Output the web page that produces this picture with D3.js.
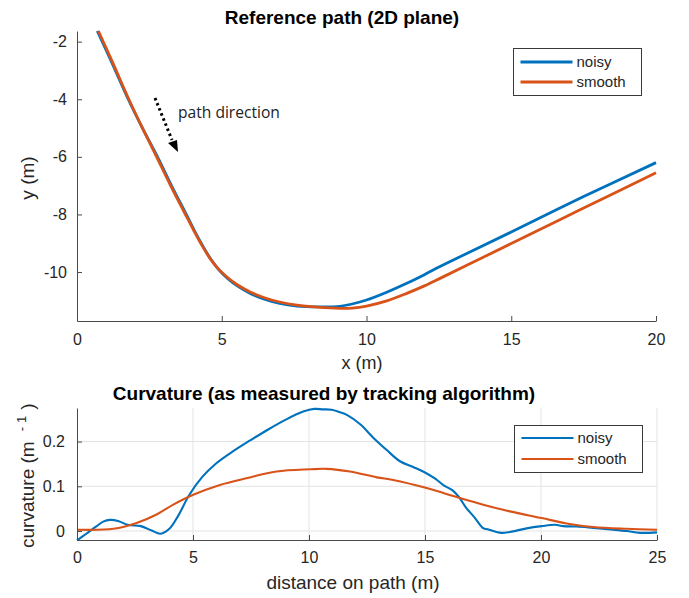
<!DOCTYPE html>
<html>
<head>
<meta charset="utf-8">
<script src="https://cdn.jsdelivr.net/npm/d3@7"></script>
<style>
  html, body { margin: 0; padding: 0; background: #fff; }
  svg { display: block; font-family: "Liberation Sans", Arial, Helvetica, sans-serif; }
</style>
</head>
<body>
<svg id="chart" width="689" height="598"></svg>
<script>
// ---------- DATA ----------
// Top: reference path (x, y) in metres
const pathNoisyX = [0.70, 1.20, 1.77, 2.27, 2.78, 3.25, 3.75, 4.05, 4.35, 4.62, 4.90, 5.20, 5.55, 6.00, 6.50, 7.00, 7.60, 8.30, 9.08, 9.50, 10.00, 10.70, 11.39, 12.00, 12.54, 13.50, 15.00, 17.50, 20.00];
const pathNoisyY = [-1.63, -2.72, -4.00, -5.02, -6.00, -6.97, -7.95, -8.55, -9.10, -9.55, -9.92, -10.22, -10.49, -10.75, -10.95, -11.09, -11.18, -11.21, -11.19, -11.11, -10.97, -10.70, -10.39, -10.09, -9.81, -9.34, -8.61, -7.38, -6.20];
const pathSmoothX = [0.74, 1.23, 1.79, 2.27, 2.75, 3.22, 3.72, 4.03, 4.33, 4.61, 4.89, 5.20, 5.55, 6.00, 6.50, 7.00, 7.60, 8.30, 9.08, 9.50, 10.00, 10.70, 11.39, 12.00, 12.54, 13.50, 15.00, 17.50, 20.00];
const pathSmoothY = [-1.63, -2.72, -4.00, -5.02, -6.00, -6.97, -7.95, -8.55, -9.10, -9.55, -9.90, -10.19, -10.45, -10.70, -10.90, -11.04, -11.15, -11.22, -11.26, -11.25, -11.18, -11.00, -10.74, -10.48, -10.22, -9.75, -9.01, -7.78, -6.55];

// Bottom: curvature vs distance on path
const curvNoisyD = [0.00, 0.40, 0.85, 1.13, 1.42, 1.80, 2.18, 2.75, 3.22, 3.60, 3.98, 4.36, 4.83, 5.40, 5.97, 6.72, 7.48, 8.24, 9.00, 9.75, 10.23, 10.60, 10.98, 11.30, 11.65, 12.22, 12.78, 13.35, 13.92, 14.49, 14.96, 15.44, 15.81, 16.19, 16.48, 16.76, 17.14, 17.52, 17.70, 18.28, 18.66, 19.38, 20.03, 20.60, 20.96, 21.54, 22.25, 23.12, 23.69, 24.27, 25.00];
const curvNoisyK = [-0.021, -0.006, 0.011, 0.021, 0.025, 0.022, 0.014, 0.011, 0.001, -0.006, 0.005, 0.034, 0.080, 0.121, 0.150, 0.178, 0.203, 0.227, 0.249, 0.267, 0.273, 0.272, 0.271, 0.266, 0.259, 0.238, 0.208, 0.181, 0.156, 0.143, 0.132, 0.117, 0.102, 0.091, 0.075, 0.053, 0.030, 0.006, 0.004, -0.004, -0.002, 0.006, 0.011, 0.014, 0.011, 0.010, 0.007, 0.003, 0.000, -0.004, -0.003];
const curvSmoothD = [0.00, 1.57, 2.57, 3.43, 4.15, 5.01, 6.16, 7.31, 8.60, 10.04, 10.76, 11.77, 12.92, 13.63, 15.07, 15.79, 16.37, 17.51, 18.66, 20.03, 21.10, 22.25, 23.69, 25.00];
const curvSmoothK = [0.003, 0.005, 0.018, 0.037, 0.059, 0.081, 0.103, 0.118, 0.133, 0.138, 0.139, 0.133, 0.120, 0.114, 0.096, 0.085, 0.076, 0.059, 0.044, 0.029, 0.017, 0.009, 0.005, 0.003];

const seriesNames = ["noisy", "smooth"];
const seriesColors = ["#0072BD", "#D95319"];
const topXTicks = [0, 5, 10, 15, 20];
const topYTicks = [-10, -8, -6, -4, -2];
const botXTicks = [0, 5, 10, 15, 20, 25];
const botYTicks = [0, 0.1, 0.2];

// ---------- DRAW ----------
const svg = d3.select("#chart");
const axisColor = "#4a4a4a";
const textColor = "#262626";

function styleAxis(g) {
  g.selectAll("path.domain").attr("stroke", axisColor).attr("stroke-width", 1);
  g.selectAll(".tick line").attr("stroke", axisColor);
  g.selectAll(".tick text").attr("fill", textColor).attr("font-size", 16);
}

// ===== Top panel =====
const xT = d3.scaleLinear().domain([0, 20]).range([77, 656]);
const yT = d3.scaleLinear().domain([-11.70, -1.63]).range([321, 31]);

const gTop = svg.append("g");
gTop.append("g").attr("transform", "translate(0,321)")
  .call(d3.axisBottom(xT).tickValues(topXTicks).tickFormat(d3.format("d")).tickSizeInner(-5).tickSizeOuter(0).tickPadding(13))
  .call(styleAxis);
gTop.append("g").attr("transform", "translate(77,0)")
  .call(d3.axisLeft(yT).tickValues(topYTicks).tickFormat(d3.format("d")).tickSizeInner(-5).tickSizeOuter(0).tickPadding(10))
  .call(styleAxis);
gTop.selectAll(".tick text").text(function(d){ return String(d); });

const topLine = d3.line().x(d => xT(d[0])).y(d => yT(d[1])).curve(d3.curveCatmullRom.alpha(0.5));
const topData = [d3.zip(pathNoisyX, pathNoisyY), d3.zip(pathSmoothX, pathSmoothY)];
gTop.selectAll("path.series").data(topData).enter().append("path")
  .attr("class", "series")
  .attr("d", topLine)
  .attr("fill", "none")
  .attr("stroke", (d, i) => seriesColors[i])
  .attr("stroke-width", 2.8)
  .attr("stroke-linejoin", "round");

// titles / labels top
svg.append("text").attr("x", 342).attr("y", 24).attr("text-anchor", "middle")
  .attr("font-size", 19).attr("font-weight", "bold").attr("fill", "#000")
  .text("Reference path (2D plane)");
svg.append("text").attr("x", 362).attr("y", 369).attr("text-anchor", "middle")
  .attr("font-size", 18).attr("fill", textColor).text("x (m)");
svg.append("text").attr("transform", "translate(34,178) rotate(-90)").attr("text-anchor", "middle")
  .attr("font-size", 19).attr("fill", textColor).text("y (m)");

// path direction annotation
svg.append("line").attr("x1", 155).attr("y1", 98).attr("x2", 172).attr("y2", 140)
  .attr("stroke", "#000").attr("stroke-width", 3).attr("stroke-dasharray", "2.5,3");
svg.append("path").attr("d", "M168,143 L177,140 L178,152 Z").attr("fill", "#000");
svg.append("text").attr("x", 178).attr("y", 118).attr("font-family", "'Open Sans', 'Noto Sans', sans-serif")
  .attr("font-size", 15.6).attr("fill", "#222").text("path direction");

// legends
function legend(x, y, w, h, y1, y2, lw) {
  const g = svg.append("g");
  g.append("rect").attr("x", x).attr("y", y).attr("width", w).attr("height", h)
    .attr("fill", "#fff").attr("stroke", "#3a3a3a").attr("stroke-width", 1);
  [y1, y2].forEach((yy, i) => {
    g.append("line").attr("x1", x + 7).attr("x2", x + 59).attr("y1", yy).attr("y2", yy)
      .attr("stroke", seriesColors[i]).attr("stroke-width", lw);
    g.append("text").attr("x", x + 63).attr("y", yy + 5).attr("font-size", 15)
      .attr("fill", textColor).text(seriesNames[i]);
  });
}
legend(513.5, 48.5, 128, 47, 62, 82, 3);

// ===== Bottom panel =====
const xB = d3.scaleLinear().domain([0, 25]).range([77, 657]);
const yB = d3.scaleLinear().domain([-0.02, 0.275]).range([540, 408]);

const gBot = svg.append("g");
gBot.append("g").selectAll("line.vg").data(botXTicks.slice(1)).enter().append("line")
  .attr("x1", d => xB(d)).attr("x2", d => xB(d)).attr("y1", 408).attr("y2", 540)
  .attr("stroke", "#e3e3e3").attr("stroke-width", 1);
gBot.append("g").selectAll("line.hg").data(botYTicks).enter().append("line")
  .attr("x1", 77).attr("x2", 657).attr("y1", d => yB(d)).attr("y2", d => yB(d))
  .attr("stroke", "#e3e3e3").attr("stroke-width", 1);

const botLine = d3.line().x(d => xB(d[0])).y(d => yB(d[1])).curve(d3.curveCatmullRom.alpha(0.5));
const botData = [d3.zip(curvNoisyD, curvNoisyK), d3.zip(curvSmoothD, curvSmoothK)];
gBot.selectAll("path.series").data(botData).enter().append("path")
  .attr("class", "series")
  .attr("d", botLine)
  .attr("fill", "none")
  .attr("stroke", (d, i) => seriesColors[i])
  .attr("stroke-width", 2.1)
  .attr("stroke-linejoin", "round");

gBot.append("g").attr("transform", "translate(0,540)")
  .call(d3.axisBottom(xB).tickValues(botXTicks).tickFormat(d3.format("d")).tickSizeInner(-5).tickSizeOuter(0).tickPadding(12))
  .call(styleAxis);
gBot.append("g").attr("transform", "translate(77,0)")
  .call(d3.axisLeft(yB).tickValues(botYTicks).tickFormat(d => d === 0 ? "0" : d3.format(".1f")(d)).tickSizeInner(-5).tickSizeOuter(0).tickPadding(12))
  .call(styleAxis);

svg.append("text").attr("x", 324).attr("y", 400).attr("text-anchor", "middle")
  .attr("font-size", 19).attr("font-weight", "bold").attr("fill", "#000")
  .text("Curvature (as measured by tracking algorithm)");
svg.append("text").attr("x", 353).attr("y", 589).attr("text-anchor", "middle")
  .attr("font-size", 19).attr("fill", textColor).text("distance on path (m)");
const yl = svg.append("text").attr("transform", "translate(34,548) rotate(-90)")
  .attr("font-size", 19).attr("fill", textColor);
yl.append("tspan").text("curvature (m");
yl.append("tspan").attr("dx", 10).attr("dy", -8).attr("font-size", 13).attr("letter-spacing", 4).text("-1");
yl.append("tspan").attr("dx", 2).attr("dy", 8).text(")");

legend(514.5, 425.5, 128, 47, 438, 459, 2.2);
</script>
</body>
</html>
